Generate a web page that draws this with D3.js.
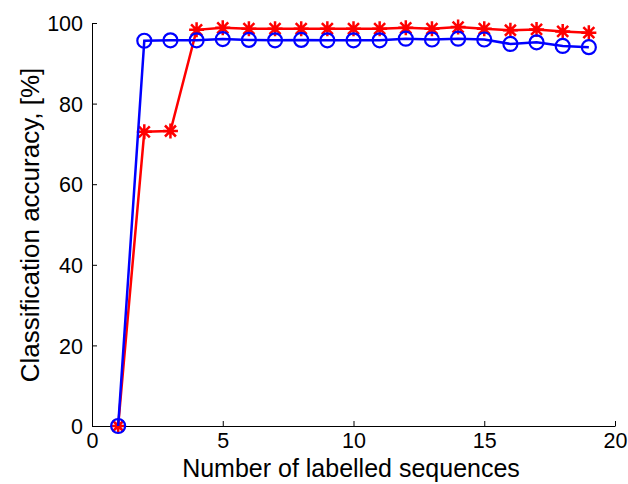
<!DOCTYPE html>
<html>
<head>
<meta charset="utf-8">
<script src="https://cdn.jsdelivr.net/npm/d3@7"></script>
<style>
  body { margin: 0; background: #fff; }
  svg { display: block; font-family: "Liberation Sans", Arial, sans-serif; }
</style>
</head>
<body>
<svg id="drawing_region"></svg>
<script>
// data
const labelled = d3.range(1, 20)
const redAcc = [0, 73, 73.2, 98.3, 98.8, 98.6, 98.6, 98.6, 98.6, 98.6, 98.6, 98.8, 98.6, 99.0, 98.6, 98.2, 98.4, 97.9, 97.6]
const blueAcc = [0, 95.6, 95.7, 95.7, 96.0, 95.8, 95.7, 95.8, 95.7, 95.7, 95.7, 96.1, 95.9, 96.1, 95.9, 94.8, 95.2, 94.3, 94.0]
const xTicks = [0, 5, 10, 15, 20]
const yTicks = [0, 20, 40, 60, 80, 100]

const width = 628, height = 484
const margin = {top: 23, left: 92, right: 13, bottom: 58}

const svg = d3.select('#drawing_region')
  .attr('width', width)
  .attr('height', height)

const innerW = width - margin.left - margin.right
const innerH = height - margin.top - margin.bottom

const chart = svg.append('g')
  .attr('transform', `translate(${margin.left},${margin.top})`)

const xscale = d3.scaleLinear().domain([0, 20]).range([0, innerW])
const yscale = d3.scaleLinear().domain([0, 100]).range([innerH, 0])

// axes, ticks pointing inward like matlab
const xaxis = d3.axisBottom(xscale).tickValues(xTicks).tickSizeInner(-5).tickSizeOuter(0).tickPadding(7)
const yaxis = d3.axisLeft(yscale).tickValues(yTicks).tickSizeInner(-5).tickSizeOuter(0).tickPadding(9)

const xg = chart.append('g').attr('transform', `translate(0,${innerH})`).call(xaxis)
const yg = chart.append('g').call(yaxis)

;[xg, yg].forEach(g => {
  g.select('.domain').attr('stroke', '#000').attr('stroke-width', 1)
  g.selectAll('.tick line').attr('stroke', '#000')
  g.selectAll('.tick text')
    .attr('font-size', 21.5)
    .attr('font-family', '"Liberation Sans", Arial, sans-serif')
    .attr('fill', '#000')
})
yg.selectAll('.tick text').attr('dy', '0.36em')
xg.selectAll('.tick text').attr('dy', '0.72em')

// axis titles
svg.append('text')
  .attr('x', 351)
  .attr('y', 477)
  .attr('text-anchor', 'middle')
  .attr('font-size', 25)
  .text('Number of labelled sequences')

svg.append('text')
  .attr('transform', `translate(39,225) rotate(-90)`)
  .attr('text-anchor', 'middle')
  .attr('font-size', 26)
  .text('Classification accuracy, [%]')

const line = d3.line()
  .x((d, i) => xscale(labelled[i]))
  .y(d => yscale(d))

// red series with star markers
chart.append('path')
  .datum(redAcc)
  .attr('d', line)
  .attr('fill', 'none')
  .attr('stroke', '#ff0000')
  .attr('stroke-width', 2.5)

const s = 7.5, sd = 5.5
const starPath = `M${-s},0L${s},0M0,${-s}L0,${s}M${-sd},${-sd}L${sd},${sd}M${-sd},${sd}L${sd},${-sd}`
chart.selectAll('.star').data(redAcc).enter()
  .append('path')
  .attr('class', 'star')
  .attr('d', starPath)
  .attr('transform', (d, i) => `translate(${xscale(labelled[i])},${yscale(d)})`)
  .attr('fill', 'none')
  .attr('stroke', '#ff0000')
  .attr('stroke-width', 2.5)

// blue series with circle markers
chart.append('path')
  .datum(blueAcc)
  .attr('d', line)
  .attr('fill', 'none')
  .attr('stroke', '#0000ff')
  .attr('stroke-width', 2.5)

chart.selectAll('.circ').data(blueAcc).enter()
  .append('circle')
  .attr('class', 'circ')
  .attr('cx', (d, i) => xscale(labelled[i]))
  .attr('cy', d => yscale(d))
  .attr('r', 7)
  .attr('fill', 'none')
  .attr('stroke', '#0000ff')
  .attr('stroke-width', 2.2)
</script>
</body>
</html>
